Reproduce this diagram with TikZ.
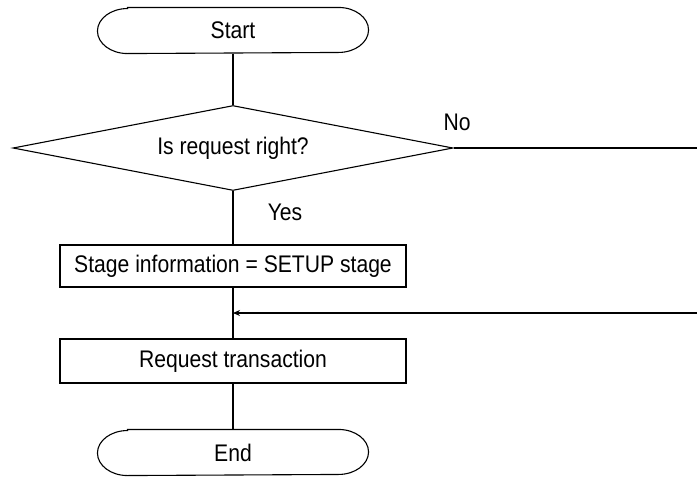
\documentclass[tikz,border=0pt]{standalone}
\usepackage{fontspec}
\setmainfont{Liberation Sans}[FakeStretch=0.88]
\usetikzlibrary{shapes.geometric,arrows.meta}
\begin{document}
\begin{tikzpicture}[x=1pt,y=-1pt,line width=1.1pt,
  font=\fontsize{24}{28}\selectfont,
  term/.style={rectangle,draw=none,minimum width=270pt,minimum height=45pt,inner sep=0pt},
  decide/.style={diamond,draw,minimum width=440pt,minimum height=85pt,aspect=5.18,inner sep=0pt},
  procbox/.style={rectangle,draw,minimum width=346pt,inner sep=0pt},
  lbl/.style={inner sep=0pt},
  arr/.style={-{Stealth[length=7pt,width=6pt]}}]
\useasboundingbox (0,0) rectangle (697,477);
\newcommand{\termoutline}[1]{%
  \draw ([xshift=30pt]#1.north west) -- ([xshift=-30pt]#1.north east)
    arc[start angle=90,end angle=-90,x radius=30pt,y radius=22.5pt]
    -- ([xshift=30pt]#1.south west)
    arc[start angle=270,end angle=90,x radius=30pt,y radius=22.5pt] -- cycle;}
\node[term] (start) at (233,30.5) {Start};
\termoutline{start}
\node[decide] (dec) at (233,148) {Is request right?};
\node[procbox,minimum height=42pt] (s1) at (233,266) {Stage information = SETUP stage};
\node[procbox,minimum height=44pt] (s2) at (233,361) {Request transaction};
\node[term] (end) at (233,452.5) {End};
\termoutline{end}
\node[lbl] (no) at (457,122) {No};
\node[lbl] (yes) at (285,212) {Yes};
\coordinate (r1) at (697,148);
\coordinate (r2) at (697,313);
\draw (start.south) -- (dec.north);
\draw (dec.south) -- (s1.north);
\draw (s1.south) -- (s2.north);
\draw (s2.south) -- (end.north);
\draw (dec.east) -- (r1);
\draw[arr] (r2) -- (r2 -| s1.south);
\end{tikzpicture}
\end{document}
